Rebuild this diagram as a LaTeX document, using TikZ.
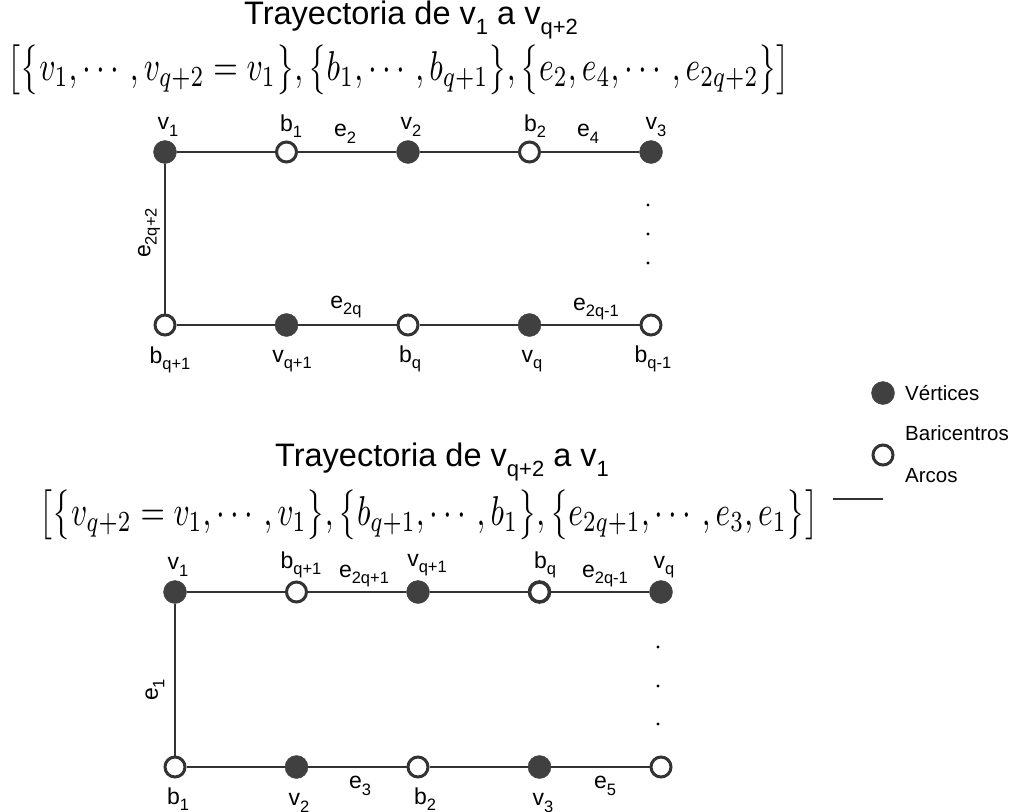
\documentclass[tikz,border=0pt]{standalone}
\usepackage[no-math]{fontspec}
\setmainfont{Liberation Sans}
\usepackage{amsmath}
\usepackage{graphicx}
\definecolor{vfill}{HTML}{404040}
\definecolor{edgec}{HTML}{333333}
\newcommand\sbs[1]{\raisebox{-0.28em}{\fontsize{16.5}{16.5}\selectfont #1}}
\newcommand\tsb[1]{\raisebox{-0.3em}{\fontsize{22}{22}\selectfont #1}}
\begin{document}
\begin{tikzpicture}[x=1pt,y=-1pt,
  vert/.style={circle, fill=vfill, draw=vfill, minimum size=23pt, inner sep=0pt},
  bari/.style={circle, fill=white, draw=edgec, line width=3pt, minimum size=20pt, inner sep=0pt},
  lab/.style={font=\fontsize{23}{25}\selectfont, inner sep=0pt, text=black},
  leg/.style={font=\fontsize{20.5}{22}\selectfont, inner sep=0pt, text=black, anchor=west},
  ttl/.style={font=\fontsize{32.5}{34}\selectfont, inner sep=0pt, text=black},
  arc/.style={draw=edgec, line width=2.5pt},
  dotm/.style={circle, fill=black, inner sep=0pt, minimum size=3.2pt}]
\useasboundingbox[fill=white] (0,0) rectangle (1019,811);

% ---------- titles ----------
\node[ttl] (t1) at (411,20) {Trayectoria de v\tsb{1} a v\tsb{q+2}};
\node[inner sep=0pt] (f1) at (399,70) {\resizebox*{782pt}{50pt}{$\bigl[\bigl\{v_1,\cdots,v_{q+2}=v_1\bigr\},\bigl\{b_1,\cdots,b_{q+1}\bigr\},\bigl\{e_2,e_4,\cdots,e_{2q+2}\bigr\}\bigr]$}};
\node[ttl] (t2) at (442,462) {Trayectoria de v\tsb{q+2} a v\tsb{1}};
\node[inner sep=0pt] (f2) at (429,515) {\resizebox*{778pt}{50pt}{$\bigl[\bigl\{v_{q+2}=v_1,\cdots,v_1\bigr\},\bigl\{b_{q+1},\cdots,b_1\bigr\},\bigl\{e_{2q+1},\cdots,e_3,e_1\bigr\}\bigr]$}};

% ---------- legend ----------
\node[vert] (lv) at (883,393) {};
\node[leg] (lvt) at (905,393) {Vértices};
\node[leg] (lbt) at (905,433) {Baricentros};
\node[bari] (lb) at (883,455) {};
\node[leg] (lat) at (905,476) {Arcos};
\coordinate (la1) at (833,499);
\coordinate (la2) at (883,499);
\draw[arc] (la1) -- (la2);

% ---------- top diagram ----------
\node[vert] (a1) at (165,152) {};
\node[bari] (a2) at (286.5,152) {};
\node[vert] (a3) at (408,152) {};
\node[bari] (a4) at (529.5,152) {};
\node[vert] (a5) at (651,152) {};
\node[bari] (c1) at (165,325) {};
\node[vert] (c2) at (286.5,325) {};
\node[bari] (c3) at (408,325) {};
\node[vert] (c4) at (529.5,325) {};
\node[bari] (c5) at (651,325) {};
\draw[arc] (a1) -- (a2) -- (a3) -- (a4) -- (a5);
\draw[arc] (c1) -- (c2) -- (c3) -- (c4) -- (c5);
\draw[arc] (a1) -- (c1);
\node[lab] at (168,127) {v\sbs{1}};
\node[lab] at (291,126) {b\sbs{1}};
\node[lab] at (345,134) {e\sbs{2}};
\node[lab] at (411,127) {v\sbs{2}};
\node[lab] at (535,126) {b\sbs{2}};
\node[lab] at (588,134) {e\sbs{4}};
\node[lab] at (656,127) {v\sbs{3}};
\node[lab, rotate=90] at (149,233) {e\sbs{2q+2}};
\node[dotm] at (648,205) {};
\node[dotm] at (648,234) {};
\node[dotm] at (648,263) {};
\node[lab] at (346,307) {e\sbs{2q}};
\node[lab] at (596,309) {e\sbs{2q-1}};
\node[lab] at (170,360) {b\sbs{q+1}};
\node[lab] at (292,361) {v\sbs{q+1}};
\node[lab] at (410,359) {b\sbs{q}};
\node[lab] at (532,361) {v\sbs{q}};
\node[lab] at (653,359) {b\sbs{q-1}};

% ---------- bottom diagram ----------
\node[vert] (p1) at (175,592) {};
\node[bari] (p2) at (296.5,592) {};
\node[vert] (p3) at (418,592) {};
\node[bari, line width=3.6pt] (p4) at (539.5,592) {};
\node[vert] (p5) at (661,592) {};
\node[bari] (r1) at (175,767) {};
\node[vert] (r2) at (296.5,767) {};
\node[bari] (r3) at (418,767) {};
\node[vert] (r4) at (539.5,767) {};
\node[bari] (r5) at (661,767) {};
\draw[arc] (p1) -- (p2) -- (p3) -- (p4) -- (p5);
\draw[arc] (r1) -- (r2) -- (r3) -- (r4) -- (r5);
\draw[arc] (p1) -- (r1);
\node[lab] at (178,567) {v\sbs{1}};
\node[lab] at (301,565) {b\sbs{q+1}};
\node[lab] at (364,576) {e\sbs{2q+1}};
\node[lab] at (427,565) {v\sbs{q+1}};
\node[lab] at (545,565) {b\sbs{q}};
\node[lab] at (605,576) {e\sbs{2q-1}};
\node[lab] at (664,567) {v\sbs{q}};
\node[lab, rotate=90] at (155,690) {e\sbs{1}};
\node[dotm] at (658,647) {};
\node[dotm] at (658,686) {};
\node[dotm] at (658,724) {};
\node[lab] at (178,799) {b\sbs{1}};
\node[lab] at (299,803) {v\sbs{2}};
\node[lab] at (360,786) {e\sbs{3}};
\node[lab] at (425,799) {b\sbs{2}};
\node[lab] at (543,803) {v\sbs{3}};
\node[lab] at (605,786) {e\sbs{5}};
\end{tikzpicture}
\end{document}
